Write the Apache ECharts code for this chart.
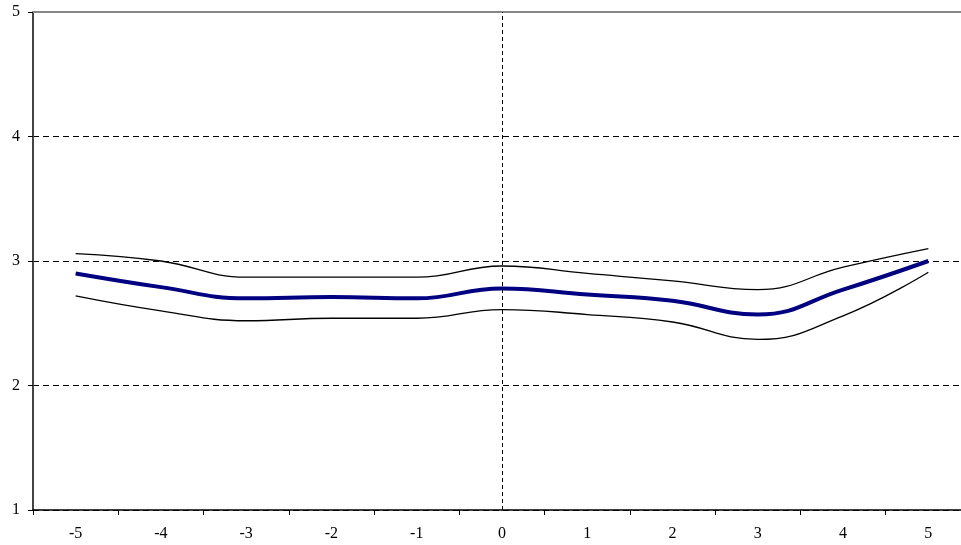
<!DOCTYPE html>
<html><head><meta charset="utf-8">
<script src="https://cdn.jsdelivr.net/npm/echarts@6/dist/echarts.min.js"></script>
<style>html,body{margin:0;padding:0;background:#fff;overflow:hidden}#c{width:961px;height:545px}</style>
</head><body><div id="c"></div>
<script>
const categories = ['-5','-4','-3','-2','-1','0','1','2','3','4','5'];
const middle = [2.90, 2.79, 2.70, 2.71, 2.70, 2.78, 2.73, 2.68, 2.57, 2.77, 3.00];
const upper  = [3.06, 3.00, 2.87, 2.87, 2.87, 2.96, 2.90, 2.84, 2.77, 2.95, 3.10];
const lower  = [2.72, 2.60, 2.52, 2.54, 2.54, 2.61, 2.57, 2.51, 2.37, 2.56, 2.91];
const yTicks = [1, 2, 3, 4, 5];

const chart = echarts.init(document.getElementById('c'));
const font = 'Liberation Serif';
chart.setOption({
  animation: false,
  grid: {left: 33, top: 12, width: 938, bottom: 35, containLabel: false, outerBoundsMode: 'none'},
  xAxis: [{
    type: 'category', data: categories, boundaryGap: true, position: 'bottom',
    axisLine: {show: true, lineStyle: {color: '#000', width: 1.5}},
    axisTick: {show: true, length: 5, lineStyle: {color: '#000'}},
    axisLabel: {color: '#000', fontFamily: font, fontSize: 16, margin: 16},
    splitLine: {show: false}
  }, {
    type: 'category', data: categories, position: 'top',
    axisLine: {show: true, lineStyle: {color: '#888', width: 2}},
    axisTick: {show: false}, axisLabel: {show: false}, splitLine: {show: false}
  }],
  yAxis: {
    type: 'value', min: yTicks[0], max: yTicks[yTicks.length - 1], interval: 1,
    axisLine: {show: true, lineStyle: {color: '#444', width: 2}},
    axisTick: {show: true, length: 5, lineStyle: {color: '#000'}},
    axisLabel: {color: '#000', fontFamily: font, fontSize: 16, margin: 13},
    splitLine: {show: true, lineStyle: {color: '#000', type: [6, 4], width: 1}}
  },
  series: [
    {type: 'line', data: upper, smooth: 0.45, symbol: 'none',
     lineStyle: {color: '#000', width: 1.3}},
    {type: 'line', data: lower, smooth: 0.45, symbol: 'none',
     lineStyle: {color: '#000', width: 1.3}},
    {type: 'line', data: middle, smooth: 0.45, symbol: 'none', z: 3,
     lineStyle: {color: '#000080', width: 4},
     markLine: {silent: true, symbol: 'none', label: {show: false},
       lineStyle: {color: '#000', type: [4, 3], width: 1},
       data: [{xAxis: '0'}]}}
  ]
});
</script></body></html>
